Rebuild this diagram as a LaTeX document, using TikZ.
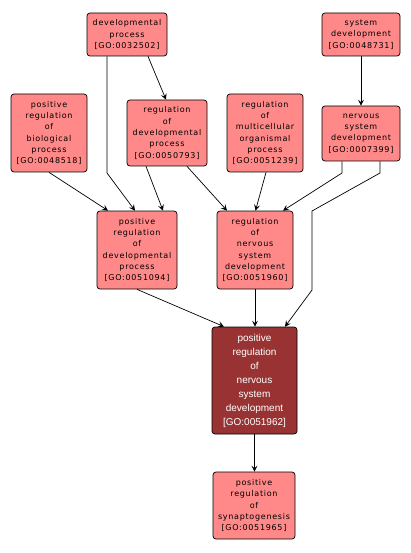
\documentclass[tikz,border=0pt]{standalone}
\usepackage{fontspec}
\setmainfont{DejaVu Sans}[LetterSpace=9]
\newfontfamily\darkfont{Liberation Sans}
\usetikzlibrary{arrows.meta}
\definecolor{goterm}{RGB}{255,136,136}
\definecolor{goquery}{RGB}{153,51,51}
\begin{document}
\begin{tikzpicture}[x=1pt, y=-1pt,
    term/.style={draw=black, fill=goterm, rounded corners=3pt, line width=0.7pt,
      align=center, inner sep=0pt, font=\fontsize{8}{11.3}\selectfont},
    query/.style={term, fill=goquery, text=white,
      font=\darkfont\fontsize{10}{14}\selectfont},
    edge/.style={line width=0.7pt, -{Stealth[length=6pt, width=6pt, inset=2.5pt]}}]
  \useasboundingbox (0,0) rectangle (410,553);

  % Top row
  \node[term, minimum width=80pt, minimum height=43pt] (devproc) at (127,34.5)
    {developmental\\process\\{[GO:0032502]}};
  \node[term, minimum width=78pt, minimum height=43pt] (sysdev) at (361,34.5)
    {system\\development\\{[GO:0048731]}};

  % Second row
  \node[term, minimum width=76pt, minimum height=78pt] (posregbio) at (49,133)
    {positive\\regulation\\of\\biological\\process\\{[GO:0048518]}};
  \node[term, minimum width=80pt, minimum height=66pt] (regdev) at (167,133)
    {regulation\\of\\developmental\\process\\{[GO:0050793]}};
  \node[term, minimum width=76pt, minimum height=78pt] (regmulti) at (265,133)
    {regulation\\of\\multicellular\\organismal\\process\\{[GO:0051239]}};
  \node[term, minimum width=78pt, minimum height=55pt] (nervdev) at (361,133.5)
    {nervous\\system\\development\\{[GO:0007399]}};

  % Third row
  \node[term, minimum width=80pt, minimum height=78pt] (posregdev) at (137,250)
    {positive\\regulation\\of\\developmental\\process\\{[GO:0051094]}};
  \node[term, minimum width=76pt, minimum height=78pt] (regnerv) at (255,250)
    {regulation\\of\\nervous\\system\\development\\{[GO:0051960]}};

  % Query term and child
  \node[query, minimum width=85pt, minimum height=107pt] (posregnerv) at (254.5,380.5)
    {positive\\regulation\\of\\nervous\\system\\development\\{[GO:0051962]}};
  \node[term, minimum width=82pt, minimum height=67pt] (posregsyn) at (254,505.5)
    {positive\\regulation\\of\\synaptogenesis\\{[GO:0051965]}};

  % Edges
  \draw[edge] (148,0 |- devproc.south) -- (166,0 |- regdev.north);
  \draw[edge] (107,0 |- devproc.south) -- (107,173) -- (135,0 |- posregdev.north);
  \draw[edge] (posregbio.south) -- (108,0 |- posregdev.north);
  \draw[edge] (146,0 |- regdev.south) -- (163,0 |- posregdev.north);
  \draw[edge] (187,0 |- regdev.south) -- (227,0 |- regnerv.north);
  \draw[edge] (266,0 |- regmulti.south) -- (255.5,0 |- regnerv.north);
  \draw[edge] (342,0 |- nervdev.south) -- (342,173) -- (283,0 |- regnerv.north);
  \draw[edge] (380,0 |- nervdev.south) -- (380,173) -- (312,211) -- (312,290)
    -- (285,0 |- posregnerv.north);
  \draw[edge] (sysdev) -- (nervdev);
  \draw[edge] (posregdev.south) -- (224,0 |- posregnerv.north);
  \draw[edge] (regnerv) -- (regnerv |- posregnerv.north);
  \draw[edge] (posregnerv) -- (posregnerv |- posregsyn.north);
\end{tikzpicture}
\end{document}
